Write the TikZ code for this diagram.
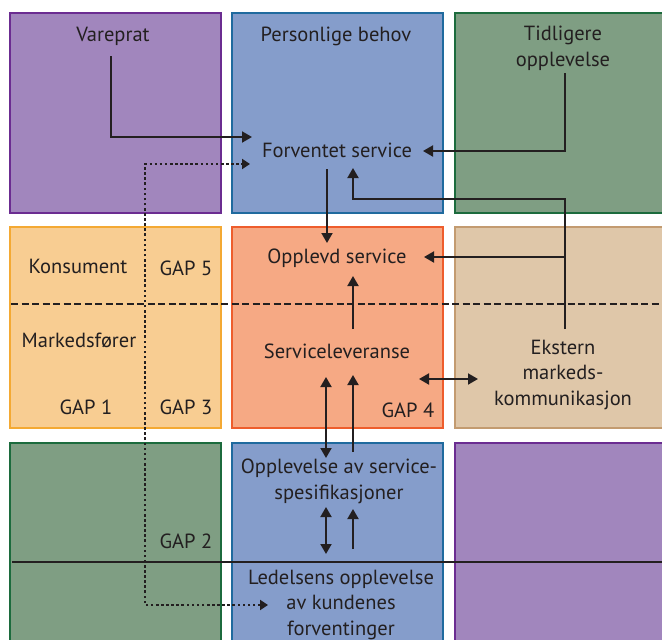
\documentclass[tikz,border=0pt]{standalone}
\usepackage{fontspec}
\setmainfont{PT Sans}
\usetikzlibrary{arrows.meta}
\definecolor{pfill}{HTML}{A186BD}\definecolor{pline}{HTML}{6B2C91}
\definecolor{bfill}{HTML}{859DCB}\definecolor{bline}{HTML}{1F6A9E}
\definecolor{gfill}{HTML}{7F9E83}\definecolor{gline}{HTML}{1C6B3D}
\definecolor{ofill}{HTML}{F8CD92}\definecolor{oline}{HTML}{F4A933}
\definecolor{sfill}{HTML}{F6A984}\definecolor{sline}{HTML}{EE5D2C}
\definecolor{tfill}{HTML}{DFC7A9}\definecolor{tline}{HTML}{C39B70}
\definecolor{ink}{HTML}{231F20}
\begin{document}
\begin{tikzpicture}[x=1pt,y=-1pt,
  cell/.style={line width=2pt},
  lbl/.style={font=\fontsize{20.5}{25.5}\selectfont, text=ink, inner sep=0pt, anchor=base, align=center},
  conn/.style={draw=ink, line width=1.9pt, -{Triangle[length=10pt,width=11pt]}},
  conn2/.style={draw=ink, line width=1.9pt, {Triangle[length=10pt,width=11pt]}-{Triangle[length=10pt,width=11pt]}},
  dotline/.style={draw=ink, line width=2.6pt, dash pattern=on 2.6pt off 2.5pt, {Triangle[length=8pt,width=10pt]}-{Triangle[length=8pt,width=10pt]}},
  dashline/.style={draw=ink, line width=2.6pt, dash pattern=on 7pt off 3.5pt},
  solidline/.style={draw=ink, line width=2.8pt}]
\useasboundingbox (0,0) rectangle (662,640);
\begin{scope}
\clip (0,0) rectangle (662,640);
\draw[cell, fill=pfill, draw=pline] (10,13) rectangle (221,213);
\draw[cell, fill=bfill, draw=bline] (232,13) rectangle (443,213);
\draw[cell, fill=gfill, draw=gline] (455,13) rectangle (680,213);
\draw[cell, fill=ofill, draw=oline] (10,227) rectangle (221,428);
\draw[cell, fill=sfill, draw=sline] (232,227) rectangle (443,428);
\draw[cell, fill=tfill, draw=tline] (455,227) rectangle (680,428);
\draw[cell, fill=gfill, draw=gline] (10,443) rectangle (221,660);
\draw[cell, fill=bfill, draw=bline] (232,443) rectangle (443,660);
\draw[cell, fill=pfill, draw=pline] (455,443) rectangle (680,660);
\end{scope}

% text nodes (multi-line nodes: base = last line)
\node[lbl] (vp) at (113,41) {Vareprat};
\node[lbl] (pb) at (336,41) {Personlige behov};
\node[lbl] (tid) at (563,66) {Tidligere\\opplevelse};
\node[lbl] (fs) at (337,157) {Forventet service};
\node[lbl] (os) at (337,263) {Opplevd service};
\node[lbl] (sl) at (337,358) {Serviceleveranse};
\node[lbl] (g4) at (408,417) {GAP 4};
\node[lbl] (kon) at (78,273) {Konsument};
\node[lbl] (g5) at (186,275) {GAP 5};
\node[lbl] (mf) at (79,347) {Markedsfører};
\node[lbl] (g1) at (86,414) {GAP 1};
\node[lbl] (g3) at (186,414) {GAP 3};
\node[lbl] (ek) at (563,405) {Ekstern\\markeds-\\kommunikasjon};
\node[lbl] (g2) at (186,548) {GAP 2};
\node[lbl] (spec) at (339,499) {Opplevelse av service-\\spesifikasjoner};
\node[lbl] (led) at (341,635) {Ledelsens opplevelse\\av kundenes\\forventinger};

% connector end points
\coordinate (vpS) at (111,56);
\coordinate (fsW) at (252,137);
\coordinate (tidS) at (565,73);
\coordinate (fsE) at (423,151);
\coordinate (ekN) at (565,329);
\coordinate (fsSE) at (353,168);
\coordinate (ekJ) at (565,257);
\coordinate (osE) at (424,257);
\coordinate (fsS) at (327,169);
\coordinate (osN) at (327,243);
\coordinate (slN) at (353,329);
\coordinate (osS) at (353,276);
\coordinate (slE) at (419,379);
\coordinate (ekW) at (478,379);
\coordinate (slSa) at (326,377);
\coordinate (specNa) at (326,458);
\coordinate (specNb) at (353,452);
\coordinate (slSb) at (353,375);
\coordinate (specSa) at (326,507);
\coordinate (ledNa) at (326,554);
\coordinate (ledNb) at (353,549);
\coordinate (specSb) at (353,509);
\coordinate (ledW) at (268,605);
\coordinate (fsWd) at (250,164);

% divider lines
\draw[dashline] (11,304) -- (662,304);
\draw[solidline] (12,562) -- (662,562);

% connectors
\draw[conn] (vpS) |- (fsW);
\draw[conn] (tidS) |- (fsE);
\draw[conn] (ekN) -- (565,199) -| (fsSE);
\draw[conn] (ekJ) -- (osE);
\draw[conn] (fsS) -- (osN);
\draw[conn] (slN) -- (osS);
\draw[conn2] (slE) -- (ekW);
\draw[conn2] (slSa) -- (specNa);
\draw[conn] (specNb) -- (slSb);
\draw[conn2] (specSa) -- (ledNa);
\draw[conn] (ledNb) -- (specSb);
\draw[dotline] (ledW) -- (145,605) -- (145,164) -- (fsWd);
\end{tikzpicture}
\end{document}
